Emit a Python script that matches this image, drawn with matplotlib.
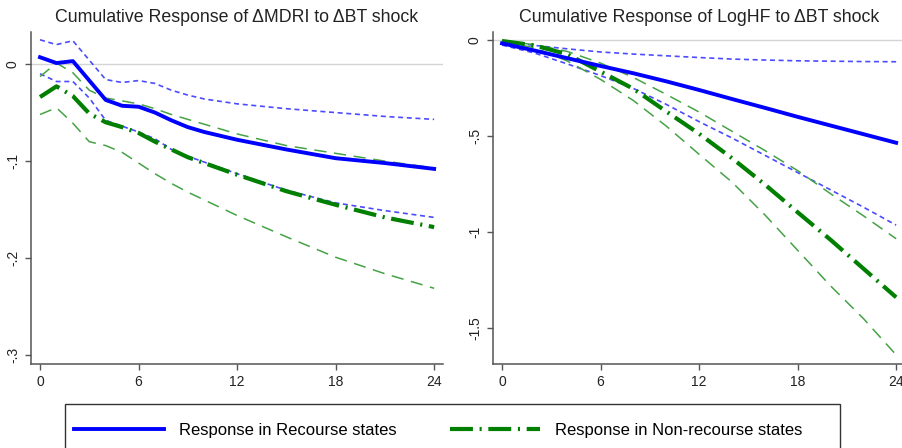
import matplotlib
matplotlib.use("Agg")
import matplotlib.pyplot as plt
from matplotlib.lines import Line2D
from matplotlib.patches import Rectangle

plt.rcParams['font.family'] = ['Liberation Sans', 'DejaVu Sans']

# left panel: cumulative response of dMDRI
months_l = [0, 1, 2, 3, 4, 5, 6, 7, 8, 9, 10, 12, 15, 18, 21, 24]
rec_l = [0.007, 0.001, 0.003, -0.017, -0.037, -0.043, -0.044, -0.050, -0.058, -0.065, -0.070, -0.078, -0.088, -0.097, -0.102, -0.108]
rec_l_hi = [0.025, 0.020, 0.024, 0.004, -0.016, -0.019, -0.017, -0.020, -0.027, -0.032, -0.036, -0.041, -0.046, -0.050, -0.054, -0.057]
rec_l_lo = [-0.010, -0.018, -0.018, -0.035, -0.058, -0.064, -0.070, -0.077, -0.088, -0.095, -0.101, -0.113, -0.130, -0.143, -0.151, -0.158]
nonrec_l = [-0.034, -0.023, -0.033, -0.051, -0.060, -0.065, -0.071, -0.080, -0.088, -0.096, -0.102, -0.114, -0.131, -0.145, -0.158, -0.168]
nonrec_l_hi = [-0.013, 0.001, -0.009, -0.027, -0.035, -0.038, -0.041, -0.046, -0.052, -0.057, -0.062, -0.072, -0.084, -0.092, -0.100, -0.107]
nonrec_l_lo = [-0.052, -0.045, -0.061, -0.080, -0.084, -0.091, -0.102, -0.113, -0.123, -0.132, -0.140, -0.156, -0.178, -0.199, -0.216, -0.231]

# right panel: cumulative response of LogHF
months_r = [0, 2, 4, 6, 8, 10, 12, 14, 16, 18, 20, 22, 24]
rec_r = [-0.017, -0.055, -0.095, -0.135, -0.173, -0.215, -0.260, -0.307, -0.353, -0.400, -0.445, -0.490, -0.535]
rec_r_hi = [-0.009, -0.028, -0.046, -0.062, -0.073, -0.082, -0.091, -0.099, -0.104, -0.108, -0.110, -0.112, -0.113]
rec_r_lo = [-0.026, -0.068, -0.125, -0.185, -0.252, -0.335, -0.425, -0.510, -0.600, -0.690, -0.780, -0.870, -0.964]
nonrec_r = [-0.005, -0.028, -0.075, -0.164, -0.254, -0.372, -0.488, -0.615, -0.752, -0.897, -1.040, -1.190, -1.340]
nonrec_r_hi = [-0.005, -0.024, -0.060, -0.120, -0.195, -0.283, -0.375, -0.475, -0.575, -0.680, -0.800, -0.915, -1.035]
nonrec_r_lo = [-0.010, -0.040, -0.110, -0.205, -0.315, -0.448, -0.595, -0.740, -0.910, -1.095, -1.280, -1.450, -1.640]

xticks = [0, 6, 12, 18, 24]
yticks_l = [0, -0.1, -0.2, -0.3]
ylabels_l = ['0', '-.1', '-.2', '-.3']
yticks_r = [0, -0.5, -1, -1.5]
ylabels_r = ['0', '-.5', '-1', '-1.5']

titles = ['Cumulative Response of \u0394MDRI to \u0394BT shock',
          'Cumulative Response of LogHF to \u0394BT shock']
legend_labels = ['Response in Recourse states', 'Response in Non-recourse states']

blue = '#0000ff'
blue_ci = '#4b4bff'
green = '#007f00'
green_ci = '#45a245'
dashdot = (0, (5.5, 1.6, 0.5, 1.6))

W, H = 903, 448
fig = plt.figure(figsize=(W / 100, H / 100), dpi=100)

ax1 = fig.add_axes([31 / W, (H - 364) / H, 412 / W, 332 / H])
ax2 = fig.add_axes([493 / W, (H - 364) / H, 412 / W, 332 / H])

panels = [
    (ax1, months_l, rec_l, rec_l_hi, rec_l_lo, nonrec_l, nonrec_l_hi, nonrec_l_lo,
     yticks_l, ylabels_l, (-0.309, 0.033)),
    (ax2, months_r, rec_r, rec_r_hi, rec_r_lo, nonrec_r, nonrec_r_hi, nonrec_r_lo,
     yticks_r, ylabels_r, (-1.6875, 0.042)),
]

for i, (ax, m, r, rh, rl, n, nh, nl, yt, yl, ylim) in enumerate(panels):
    ax.axhline(0, color='#d4d4d4', lw=1.0, zorder=1)
    ax.plot(m, rh, color=blue_ci, lw=1.2, linestyle=(0, (3, 2.2)), zorder=2)
    ax.plot(m, rl, color=blue_ci, lw=1.2, linestyle=(0, (3, 2.2)), zorder=2)
    ax.plot(m, nh, color=green_ci, lw=1.1, linestyle=(0, (8, 5)), zorder=2)
    ax.plot(m, nl, color=green_ci, lw=1.1, linestyle=(0, (8, 5)), zorder=2)
    ax.plot(m, n, color=green, lw=3.0, linestyle=dashdot, dash_capstyle='butt', zorder=3)
    ax.plot(m, r, color=blue, lw=2.8, zorder=4)

    ax.set_xlim(-0.55, 24.54)
    ax.set_ylim(*ylim)
    ax.set_xticks(xticks)
    ax.set_yticks(yt)
    ax.set_yticklabels(yl, rotation=90, va='center')
    for s in ['top', 'right']:
        ax.spines[s].set_visible(False)
    for s in ['left', 'bottom']:
        ax.spines[s].set_color('#555555')
        ax.spines[s].set_linewidth(1.1)
    ax.tick_params(colors='#555555', labelcolor='#222222', labelsize=10, length=4, width=1.0, pad=4)
    ax.set_title(titles[i], fontsize=12.8, color='#222222', pad=7)

# legend box (bottom clipped by the figure edge like the original)
fig.add_artist(Rectangle((65 / W, (H - 462) / H), 775 / W, 58 / H,
                         transform=fig.transFigure, fill=False, edgecolor='#333333', lw=1.0))
handles = [Line2D([], [], color=blue, lw=2.8),
           Line2D([], [], color=green, lw=3.0, linestyle=dashdot, dash_capstyle='butt')]
fig.legend(handles, legend_labels, loc='center left', bbox_to_anchor=(74 / W, (H - 430) / H),
           ncol=2, frameon=False, fontsize=12, handlelength=5.4, handletextpad=0.9,
           columnspacing=3.2, borderpad=0, borderaxespad=0)

fig.savefig('out.png', dpi=100)
